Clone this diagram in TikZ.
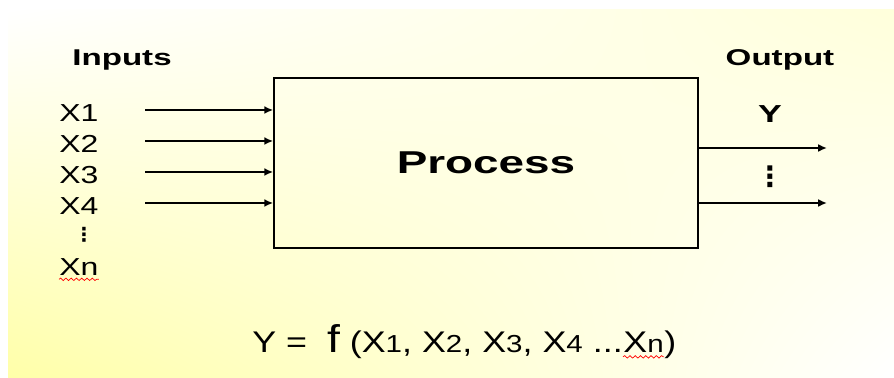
\documentclass[tikz,border=0pt]{standalone}
\usepackage{fontspec}
\setmainfont{Liberation Sans}
\newfontfamily\widefont[FakeStretch=1.45]{Liberation Sans}
\newfontfamily\labelfont[FakeStretch=1.3]{Liberation Sans}
\newfontfamily\eqfont[FakeStretch=1.2]{Liberation Sans}
\newfontfamily\symfont{DejaVu Sans}
\usetikzlibrary{arrows.meta, positioning, decorations.pathmorphing, shadings}

\begin{document}
\begin{tikzpicture}[x=0.02cm, y=-0.02cm,
  every node/.style={inner sep=0pt},
  lbl/.style={font=\labelfont\fontsize{14}{16}\selectfont},
  head/.style={font=\widefont\bfseries\fontsize{13}{15}\selectfont},
  fml/.style={font=\eqfont\fontsize{17}{20}\selectfont},
  flow/.style={line width=1.5pt, -{Latex[length=5pt,width=4.5pt]}},
  spell/.style={red, line width=0.4pt, decorate,
    decoration={snake, amplitude=0.7pt, segment length=3pt}}]
\useasboundingbox (0,0) rectangle (894,378);
\fill [white] (0,0) rectangle (894,378);
\shade [upper left=white, upper right=yellow!14, lower left=yellow!34,
  lower right=white] (8,10) rectangle (894,378);

% the process box
\node [draw, line width=1pt, minimum width=8.48cm, minimum height=3.4cm,
  font=\widefont\bfseries\fontsize{18}{20}\selectfont] (proc) at (486,163) {Process};

\node [head] (inputs) at (122,60) {Inputs};
\node [head] (output) at (780,60) {Output};

% inputs
\foreach \i in {1,...,4} {
  \pgfmathsetmacro{\y}{110+31*(\i-1)}
  \node [lbl, anchor=west] (x\i) at (59,\y+3) {X\i};
  \coordinate (in\i) at (145,\y);
  \draw [flow] (in\i) -- (in\i -| proc.west);
}
\node [font=\symfont\bfseries\fontsize{11}{11}\selectfont] (vin) at (84,235) {⋮};
\node [lbl, anchor=west] (xn) at (59,267) {Xn};
\draw [spell] ([yshift=-2pt]xn.south west) -- ([yshift=-2pt]xn.south east);

% outputs
\node [font=\widefont\bfseries\fontsize{14}{16}\selectfont] (y) at (770,114) {Y};
\coordinate (out1) at (827,148);
\coordinate (out2) at (827,203);
\draw [flow] (out1 -| proc.east) -- (out1);
\draw [flow] (out2 -| proc.east) -- (out2);
\node [font=\symfont\bfseries\fontsize{16}{16}\selectfont] (vout) at (770,177) {⋮};

% the function
\node [fml, anchor=base west] (eq) at (252,353)
  {Y = \ {\fontsize{22}{24}\selectfont f} (X{\fontsize{14}{16}\selectfont 1},
   X{\fontsize{14}{16}\selectfont 2}, X{\fontsize{14}{16}\selectfont 3},
   X{\fontsize{14}{16}\selectfont 4} ...};
\node [fml, anchor=base west] (eqxn) at (eq.base east) {X{\fontsize{14}{16}\selectfont n}};
\node [fml, anchor=base west] (eqend) at (eqxn.base east) {)};
\draw [spell] ([yshift=-2pt]eqxn.south west) -- ([yshift=-2pt]eqxn.south east);
\end{tikzpicture}
\end{document}
